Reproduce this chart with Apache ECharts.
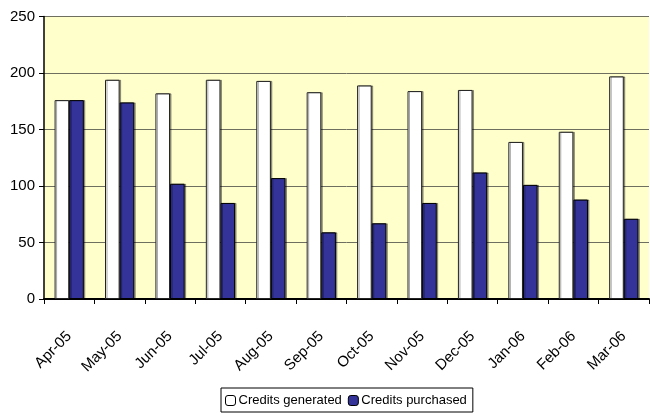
<!DOCTYPE html>
<html>
<head>
<meta charset="utf-8">
<script src="https://cdn.jsdelivr.net/npm/echarts@6/dist/echarts.min.js"></script>
<style>
  html, body { margin: 0; padding: 0; background: #fff; }
  #chart { width: 650px; height: 413px; }
</style>
</head>
<body>
<div id="chart"></div>
<script>
// Monthly credits, April 2005 to March 2006
const months = ['Apr-05', 'May-05', 'Jun-05', 'Jul-05', 'Aug-05', 'Sep-05',
                'Oct-05', 'Nov-05', 'Dec-05', 'Jan-06', 'Feb-06', 'Mar-06'];
const creditsGenerated = [176, 194, 182, 194, 193, 183, 189, 184, 185, 139, 148, 197];
const creditsPurchased = [176, 174, 102, 85, 107, 59, 67, 85, 112, 101, 88, 71];
const yTicks = { min: 0, max: 250, step: 50 };

const font = 'Liberation Sans, Arial, sans-serif';

const chart = echarts.init(document.getElementById('chart'), null, { renderer: 'canvas' });

const barShadow = {
  shadowColor: 'rgba(0,0,0,0.35)',
  shadowOffsetX: 1.5,
  shadowOffsetY: 0,
  shadowBlur: 0
};

chart.setOption({
  animation: false,
  backgroundColor: '#ffffff',
  grid: {
    left: 44, right: 1, top: 16.5, bottom: 114,
    show: true,
    backgroundColor: '#FFFFCC',
    borderWidth: 0
  },
  legend: {
    top: 388,
    left: 221,
    itemWidth: 10,
    itemHeight: 10,
    itemGap: 6,
    padding: [6, 6, 5, 4],
    borderColor: '#000',
    borderWidth: 1,
    backgroundColor: '#fff',
    textStyle: { fontFamily: font, fontSize: 13, color: '#000', padding: [0, 0, 0, -2] },
    data: [
      { name: 'Credits generated', itemStyle: { color: '#fff', borderColor: '#000', borderWidth: 1 } },
      { name: 'Credits purchased', itemStyle: { color: '#333399', borderColor: '#000', borderWidth: 1 } }
    ]
  },
  xAxis: {
    type: 'category',
    data: months,
    axisLine: { lineStyle: { color: '#000', width: 2 } },
    axisTick: { show: true, length: 5, lineStyle: { color: '#000', width: 1 } },
    axisLabel: {
      rotate: 45,
      margin: 35,
      fontFamily: font,
      fontSize: 15,
      color: '#000'
    },
    splitLine: { show: false }
  },
  yAxis: {
    type: 'value',
    min: yTicks.min,
    max: yTicks.max,
    interval: yTicks.step,
    axisLine: { show: true, lineStyle: { color: '#000', width: 1.5 } },
    axisTick: { show: true, length: 5, lineStyle: { color: '#000' } },
    axisLabel: {
      margin: 9,
      fontFamily: font,
      fontSize: 15,
      color: '#000'
    },
    splitLine: { show: true, lineStyle: { color: '#6f6f60', width: 1 } }
  },
  series: [
    {
      name: 'Credits generated',
      type: 'bar',
      data: creditsGenerated,
      barGap: '0%',
      barCategoryGap: '42%',
      itemStyle: Object.assign({ color: '#ffffff', borderColor: '#222', borderWidth: 1 }, barShadow)
    },
    {
      name: 'Credits purchased',
      type: 'bar',
      data: creditsPurchased,
      itemStyle: Object.assign({ color: '#333399', borderColor: '#000', borderWidth: 1 }, barShadow)
    }
  ]
});
</script>
</body>
</html>
